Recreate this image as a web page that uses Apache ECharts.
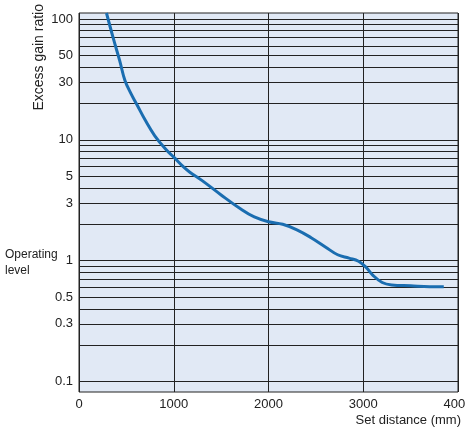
<!DOCTYPE html><html><head><meta charset="utf-8"><script src="https://cdn.jsdelivr.net/npm/echarts@6/dist/echarts.min.js"></script>
<style>html,body{margin:0;padding:0;background:#fff}#c{width:465px;height:435px}</style></head><body><div id="c"></div><script>
const distances=[290,360,430,485,550,612,700,800,918,1000,1100,1170,1300,1500,1700,1850,2000,2150,2300,2450,2600,2730,2850,2950,3030,3100,3200,3300,3500,3700,3850];
const gains=[112,70,45,31,24,19.5,14.5,10.8,8.3,7.2,6.0,5.4,4.6,3.5,2.7,2.3,2.1,2.0,1.8,1.55,1.3,1.12,1.05,0.99,0.88,0.76,0.66,0.63,0.62,0.61,0.61];
const xTicks=[0,1000,2000,3000,4000];
const gridValues=[0.1,0.2,0.3,0.4,0.5,0.6,0.7,0.8,0.9,1,2,3,4,5,6,7,8,9,10,20,30,40,50,60,70,80,90,100];
const labeledValues=[0.1,0.3,0.5,1,3,5,10,30,50,100];
const chart=echarts.init(document.getElementById('c'));
const F='Liberation Sans, Arial, sans-serif';
chart.setOption({
  animation:false,
  textStyle:{fontFamily:F},
  grid:{left:79,right:7,top:13,bottom:43,containLabel:false,outerBoundsMode:'none',show:true,backgroundColor:'#e1e9f5',borderColor:'#222',borderWidth:1},
  xAxis:{type:'value',min:0,max:4000,interval:1000,
    axisLine:{show:false},axisTick:{show:false},
    splitLine:{show:true,lineStyle:{color:'#222',width:1}},
    axisLabel:{color:'#222',fontSize:13,margin:6,formatter:v=>xTicks.includes(v)?String(v):''}},
  yAxis:{type:'log',logBase:10,min:0.082,max:112,
    axisLine:{show:false},axisTick:{show:false},axisLabel:{show:false},splitLine:{show:false}},
  graphic:[
    {type:'text',left:5,top:247,style:{text:'Operating\nlevel',fill:'#222',font:'12px '+F,lineHeight:16}},
    {type:'text',right:4,top:414,style:{text:'Set distance (mm)',fill:'#222',font:'13px '+F}},
    {type:'text',x:32,y:4,rotation:Math.PI/2,style:{text:'Excess gain ratio',fill:'#222',font:'14px '+F,align:'right',verticalAlign:'top'}}
  ],
  series:[
    {type:'line',data:[],silent:true,
     markLine:{symbol:'none',silent:true,animation:false,
       lineStyle:{color:'#222',width:1,type:'solid'},
       label:{position:'start',color:'#222',fontSize:13,distance:6,
         formatter:p=>labeledValues.includes(p.value)?String(p.value):''},
       data:gridValues.map(v=>({yAxis:v}))}},
    {type:'line',data:distances.map((d,i)=>[d,gains[i]]),smooth:0.4,showSymbol:false,
     lineStyle:{color:'#1a6db0',width:3},z:5}
  ]
});
</script></body></html>
